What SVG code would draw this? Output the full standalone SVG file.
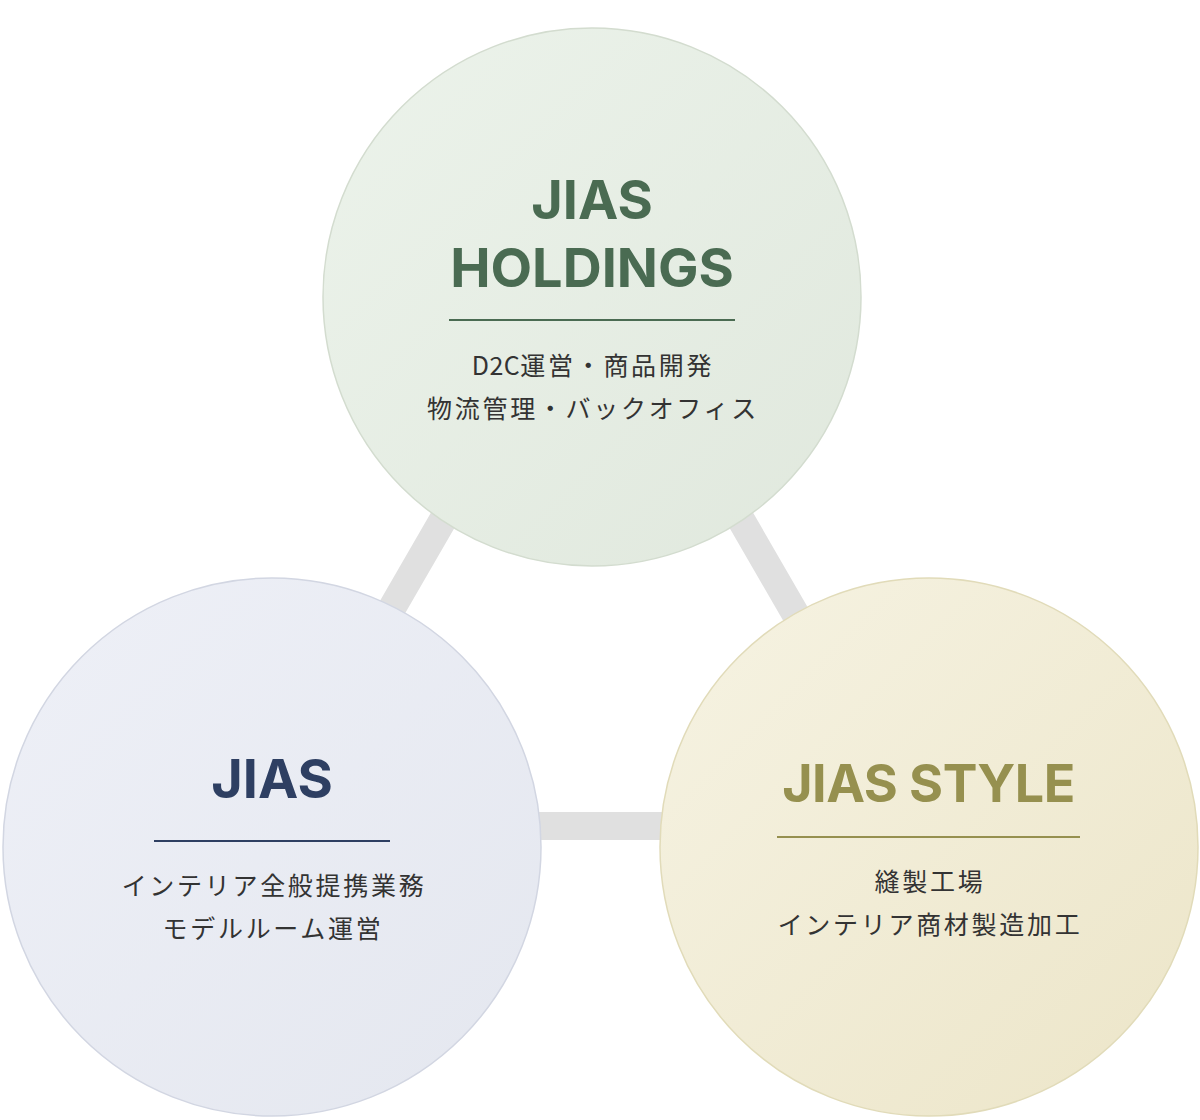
<svg xmlns="http://www.w3.org/2000/svg" width="1200" height="1120" viewBox="0 0 1200 1120">
<style>
.title{font-family:Inter,"Liberation Sans",sans-serif;font-weight:700;font-size:54px;text-anchor:middle}
.sub{font-family:"Noto Sans CJK JP","Noto Sans",sans-serif;font-size:25px;fill:#333333;letter-spacing:2.7px;text-anchor:middle}
.conn{fill:none;stroke:#e0e0e0;stroke-width:28;stroke-linejoin:miter}
</style>
<defs>
<linearGradient id="gTop" x1="0" y1="0" x2="1" y2="1">
<stop offset="0" stop-color="#ecf3eb"/><stop offset="1" stop-color="#e0e8dd"/>
</linearGradient>
<linearGradient id="gLeft" x1="0" y1="0" x2="1" y2="1">
<stop offset="0" stop-color="#eef0f7"/><stop offset="1" stop-color="#e4e7ef"/>
</linearGradient>
<linearGradient id="gRight" x1="0" y1="0" x2="1" y2="1">
<stop offset="0" stop-color="#f6f3e3"/><stop offset="1" stop-color="#ece5c8"/>
</linearGradient>
</defs>
<rect width="1200" height="1120" fill="#ffffff"/>
<g id="connectors">
<polygon class="conn" points="592,262 266,826 918,826"/>
</g>
<g id="node-holdings">
<circle cx="592" cy="297" r="269" fill="url(#gTop)" stroke="#d3dccf" stroke-width="1.5"/>
<text class="title" x="592" y="219" fill="#4a6b52">JIAS</text>
<text class="title" x="592" y="287" fill="#4a6b52">HOLDINGS</text>
<line x1="449" y1="320" x2="735" y2="320" stroke="#4a6b52" stroke-width="1.8"/>
<text class="sub" x="593" y="375"><tspan letter-spacing="0.5">D2C</tspan>運営・商品開発</text>
<text class="sub" x="593" y="418">物流管理・バックオフィス</text>
</g>
<g id="node-jias">
<circle cx="272" cy="847" r="269" fill="url(#gLeft)" stroke="#d2d6e2" stroke-width="1.5"/>
<text class="title" x="272" y="798" fill="#2e3f62">JIAS</text>
<line x1="154" y1="841" x2="390" y2="841" stroke="#2e3f62" stroke-width="1.8"/>
<text class="sub" x="274" y="895">インテリア全般提携業務</text>
<text class="sub" x="273" y="938">モデルルーム運営</text>
</g>
<g id="node-style">
<circle cx="929" cy="847" r="269" fill="url(#gRight)" stroke="#e1dbb9" stroke-width="1.5"/>
<text class="title" x="928.5" y="802" fill="#96904f" style="font-size:52px;letter-spacing:-0.5px">JIAS STYLE</text>
<line x1="777" y1="837" x2="1080" y2="837" stroke="#96904f" stroke-width="1.8"/>
<text class="sub" x="930" y="891">縫製工場</text>
<text class="sub" x="930" y="934">インテリア商材製造加工</text>
</g>
</svg>
